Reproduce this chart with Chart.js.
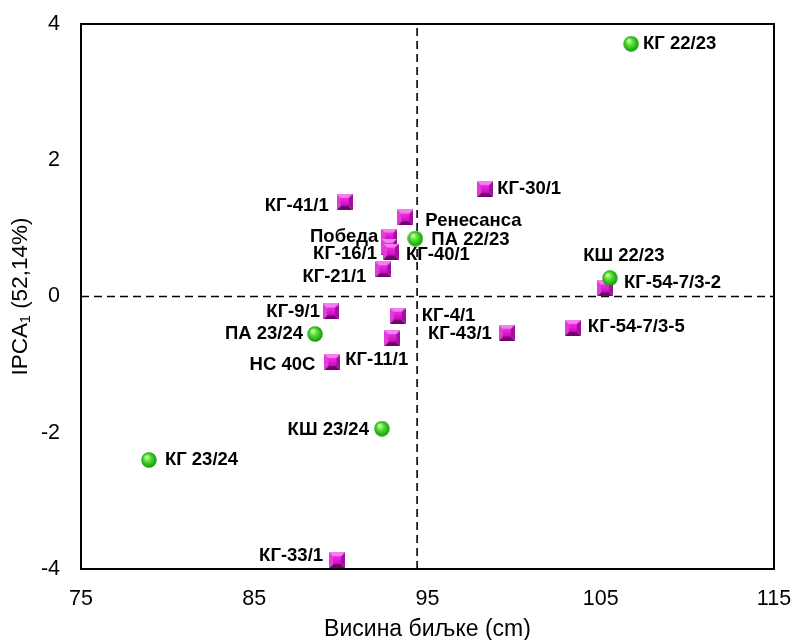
<!DOCTYPE html>
<html>
<head>
<meta charset="utf-8">
<script src="https://cdn.jsdelivr.net/npm/chart.js@4.4.1/dist/chart.umd.min.js"></script>
<style>
  html, body { margin: 0; padding: 0; background: #ffffff; }
  canvas { display: block; }
</style>
</head>
<body>
<canvas id="biplot" width="794" height="640"></canvas>
<script>
// Genotypes (square markers): plant height (cm) and IPCA1 score
const genotypeNames = ['КГ-30/1', 'КГ-41/1', 'Ренесанса', 'Победа', 'КГ-16/1', 'КГ-40/1', 'КГ-21/1',
  'КГ-54-7/3-2', 'КГ-9/1', 'КГ-4/1', 'КГ-43/1', 'КГ-54-7/3-5', 'КГ-11/1', 'НС 40С', 'КГ-33/1'];
const genotypeHeight = [98.33, 90.22, 93.72, 92.80, 92.78, 92.89, 92.45,
  105.25, 89.43, 93.28, 99.58, 103.39, 92.97, 89.51, 89.78];
const genotypeIPCA1 = [1.58, 1.39, 1.16, 0.88, 0.73, 0.66, 0.40,
  0.12, -0.22, -0.28, -0.53, -0.46, -0.61, -0.96, -3.87];

// Environments (sphere markers)
const environmentNames = ['КГ 22/23', 'ПА 22/23', 'КШ 22/23', 'ПА 23/24', 'КШ 23/24', 'КГ 23/24'];
const environmentHeight = [106.75, 94.30, 105.53, 88.51, 92.37, 78.92];
const environmentIPCA1 = [3.71, 0.85, 0.27, -0.55, -1.94, -2.40];

// Grand mean of plant height (vertical reference line)
const grandMean = 94.4;

const xTicks = [75, 85, 95, 105, 115];
const yTicks = [-4, -2, 0, 2, 4];

const xTitle = 'Висина биљке (cm)';
const yTitleMain = 'IPCA';
const yTitleSub = '1';
const yTitleRest = ' (52,14%)';

// Label placement next to each marker: [dx, dy, text alignment]
const genotypeLabelPlace = [
  [12, 0, 'left'], [-16, 4, 'right'], [20, 3, 'left'], [-11, 0, 'right'], [-12, 7, 'right'],
  [15, 3, 'left'], [-17, 8, 'right'], [19, -5, 'left'], [-11, 0, 'right'], [24, 0, 'left'],
  [-15, 1, 'right'], [15, -1, 'left'], [-47, 22, 'left'], [-17, 3, 'right'], [-14, -4, 'right']
];
const environmentLabelPlace = [
  [12, 0, 'left'], [16, 1, 'left'], [14, -22, 'center'], [-12, 0, 'right'], [-13, 1, 'right'], [16, 0, 'left']
];

const FONT = '"Liberation Sans", Arial, sans-serif';

// Bevelled magenta square marker
function makeSquareMarker(size) {
  const c = document.createElement('canvas');
  c.width = size; c.height = size;
  const g = c.getContext('2d');
  const b = Math.round(size * 0.22);
  const poly = (pts, color) => {
    g.fillStyle = color;
    g.beginPath();
    g.moveTo(pts[0][0], pts[0][1]);
    for (let i = 1; i < pts.length; i++) g.lineTo(pts[i][0], pts[i][1]);
    g.closePath();
    g.fill();
  };
  poly([[0, 0], [size, 0], [size - b, b], [b, b]], '#f57ff0');
  poly([[0, 0], [b, b], [b, size - b], [0, size]], '#e23ddb');
  poly([[size, 0], [size, size], [size - b, size - b], [size - b, b]], '#a1129c');
  poly([[0, size], [size, size], [size - b, size - b], [b, size - b]], '#74006f');
  const face = g.createLinearGradient(0, b, 0, size - b);
  face.addColorStop(0, '#f02ce6');
  face.addColorStop(1, '#c80cbe');
  g.fillStyle = face;
  g.fillRect(b, b, size - 2 * b, size - 2 * b);
  return c;
}

// Shaded green sphere marker
function makeSphereMarker(size) {
  const c = document.createElement('canvas');
  c.width = size; c.height = size;
  const g = c.getContext('2d');
  const r = size / 2;
  const grad = g.createRadialGradient(r * 0.7, r * 0.6, r * 0.1, r, r, r);
  grad.addColorStop(0, '#c8ffaa');
  grad.addColorStop(0.35, '#5fe03c');
  grad.addColorStop(0.8, '#22b012');
  grad.addColorStop(1, '#158a0a');
  g.fillStyle = grad;
  g.beginPath();
  g.arc(r, r, r - 0.3, 0, Math.PI * 2);
  g.fill();
  return c;
}

const squareMarker = makeSquareMarker(16);
const sphereMarker = makeSphereMarker(16);

const toPoints = (xs, ys) => xs.map((x, i) => ({ x: x, y: ys[i] }));

// Frame around the plotting area
const framePlugin = {
  id: 'frame',
  beforeDatasetsDraw(chart) {
    const a = chart.chartArea;
    const ctx = chart.ctx;
    ctx.save();
    ctx.strokeStyle = '#000';
    ctx.lineWidth = 2;
    ctx.strokeRect(a.left, a.top, a.right - a.left, a.bottom - a.top);
    ctx.restore();
  }
};

// Point labels beside the markers
const pointLabelPlugin = {
  id: 'pointLabels',
  afterDatasetsDraw(chart) {
    const ctx = chart.ctx;
    ctx.save();
    ctx.font = 'bold 18.5px ' + FONT;
    ctx.fillStyle = '#000';
    ctx.textBaseline = 'middle';
    chart.data.datasets.forEach((ds, di) => {
      if (!ds.labelNames) return;
      const meta = chart.getDatasetMeta(di);
      meta.data.forEach((el, i) => {
        const p = ds.labelPlace[i];
        ctx.textAlign = p[2];
        ctx.fillText(ds.labelNames[i], el.x + p[0], el.y + p[1]);
      });
    });
    ctx.restore();
  }
};

// Axis titles (the vertical one carries a subscript)
const axisTitlePlugin = {
  id: 'axisTitles',
  afterDraw(chart) {
    const ctx = chart.ctx;
    const a = chart.chartArea;
    ctx.save();
    ctx.fillStyle = '#000';
    ctx.textBaseline = 'middle';
    ctx.font = '23px ' + FONT;
    ctx.textAlign = 'center';
    ctx.fillText(xTitle, (a.left + a.right) / 2, 630);

    const big = '22.5px ' + FONT;
    const small = '14px ' + FONT;
    ctx.font = big;
    const w1 = ctx.measureText(yTitleMain).width;
    const w3 = ctx.measureText(yTitleRest).width;
    ctx.font = small;
    const w2 = ctx.measureText(yTitleSub).width;
    const total = w1 + w2 + w3;
    ctx.translate(21, (a.top + a.bottom) / 2);
    ctx.rotate(-Math.PI / 2);
    ctx.textAlign = 'left';
    let x = -total / 2;
    ctx.font = big;
    ctx.fillText(yTitleMain, x, 0);
    x += w1;
    ctx.font = small;
    ctx.fillText(yTitleSub, x, 5);
    x += w2;
    ctx.font = big;
    ctx.fillText(yTitleRest, x, 0);
    ctx.restore();
  }
};

const dashStyle = {
  showLine: true,
  borderColor: '#000',
  borderWidth: 1.6,
  borderDash: [8, 5],
  pointRadius: 0,
  pointHoverRadius: 0,
  fill: false,
  order: 3
};

new Chart(document.getElementById('biplot'), {
  type: 'scatter',
  data: {
    datasets: [
      Object.assign({ data: [{ x: xTicks[0], y: 0 }, { x: xTicks[xTicks.length - 1], y: 0 }] }, dashStyle),
      Object.assign({ data: [{ x: grandMean, y: yTicks[0] }, { x: grandMean, y: yTicks[yTicks.length - 1] }] }, dashStyle),
      {
        data: toPoints(genotypeHeight, genotypeIPCA1),
        pointStyle: squareMarker,
        pointRadius: 8,
        labelNames: genotypeNames,
        labelPlace: genotypeLabelPlace,
        order: 2
      },
      {
        data: toPoints(environmentHeight, environmentIPCA1),
        pointStyle: sphereMarker,
        pointRadius: 8,
        labelNames: environmentNames,
        labelPlace: environmentLabelPlace,
        order: 1
      }
    ]
  },
  options: {
    responsive: false,
    animation: false,
    devicePixelRatio: 1,
    events: [],
    layout: { padding: { top: 24, right: 20, left: 0, bottom: 0 } },
    plugins: { legend: { display: false }, tooltip: { enabled: false } },
    scales: {
      x: {
        type: 'linear',
        min: xTicks[0],
        max: xTicks[xTicks.length - 1],
        afterBuildTicks: s => { s.ticks = xTicks.map(v => ({ value: v })); },
        afterFit: s => { s.height = 71; s.paddingLeft = 0; s.paddingRight = 0; },
        grid: { display: false, drawTicks: false },
        border: { display: false },
        ticks: { color: '#000', font: { family: FONT, size: 21.5 }, padding: 17, maxRotation: 0 }
      },
      y: {
        type: 'linear',
        min: yTicks[0],
        max: yTicks[yTicks.length - 1],
        afterBuildTicks: s => { s.ticks = yTicks.map(v => ({ value: v })); },
        afterFit: s => { s.width = 81; s.paddingTop = 0; s.paddingBottom = 0; },
        grid: { display: false, drawTicks: false },
        border: { display: false },
        ticks: { color: '#000', font: { family: FONT, size: 21.5 }, padding: 21 }
      }
    }
  },
  plugins: [framePlugin, pointLabelPlugin, axisTitlePlugin]
});
</script>
</body>
</html>
